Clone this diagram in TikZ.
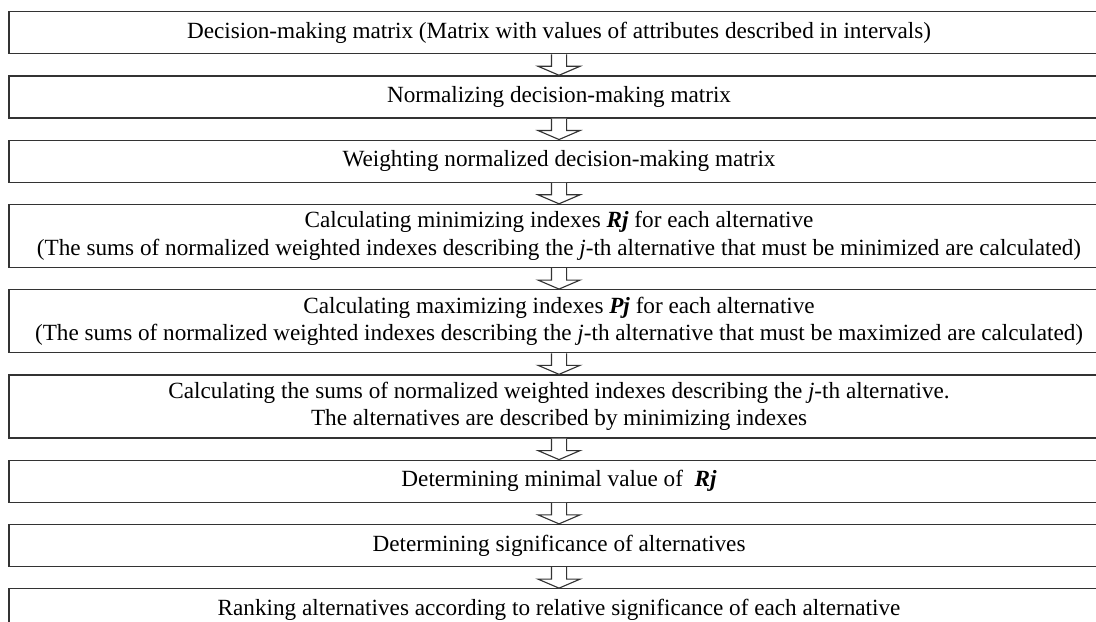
\documentclass[tikz,border=0pt]{standalone}
\usepackage{fontspec}
\setmainfont{Liberation Serif}
\usetikzlibrary{positioning}
\begin{document}
\begin{tikzpicture}[
    stage/.style={draw=black!80, line width=0.9pt, rectangle, inner sep=0pt, minimum width=27.5cm, minimum height=1.05cm, align=center, font=\fontsize{16.5}{19.5}\selectfont},
    twoline/.style={stage, minimum height=1.575cm},
    hollow/.style={draw=black!80, line width=0.8pt, fill=white, line join=miter}
]


            \useasboundingbox (0,0) rectangle (27.4,-15.525);
            \clip (0,0) rectangle (27.4,-15.525);

            \node[stage, anchor=north west] (matrix) at (0.21,-0.275) {Decision-making matrix (Matrix with values of attributes described in intervals)};
            \node[stage, below=0.525cm of matrix] (normalized) {Normalizing decision-making matrix};
            \node[stage, below=0.525cm of normalized] (weighted) {Weighting normalized decision-making matrix};
            \node[twoline, below=0.525cm of weighted] (minind) {Calculating minimizing indexes \textbf{\textit{Rj}} for each alternative\\(The sums of normalized weighted indexes describing the \textit{j}-th alternative that must be minimized are calculated)};
            \node[twoline, below=0.525cm of minind] (maxind) {Calculating maximizing indexes \textbf{\textit{Pj}} for each alternative\\(The sums of normalized weighted indexes describing the \textit{j}-th alternative that must be maximized are calculated)};
            \node[twoline, below=0.525cm of maxind] (sums) {Calculating the sums of normalized weighted indexes describing the \textit{j}-th alternative.\\The alternatives are described by minimizing indexes};
            \node[stage, below=0.525cm of sums] (minimal) {Determining minimal value of \ \textbf{\textit{Rj}}};
            \node[stage, below=0.525cm of minimal] (signif) {Determining significance of alternatives};
            \node[stage, below=0.525cm of signif] (ranking) {Ranking alternatives according to relative significance of each alternative};

            % hollow arrows between the stages
            \foreach \a/\b in {matrix/normalized, normalized/weighted, weighted/minind, minind/maxind, maxind/sums, sums/minimal, minimal/signif, signif/ranking}
                \draw[hollow] ([xshift=-0.19cm]\a.south) -- ([xshift=-0.19cm,yshift=-0.3cm]\a.south) -- ([xshift=-0.525cm,yshift=-0.3cm]\a.south) -- (\b.north) -- ([xshift=0.525cm,yshift=-0.3cm]\a.south) -- ([xshift=0.19cm,yshift=-0.3cm]\a.south) -- ([xshift=0.19cm]\a.south);
            \end{tikzpicture}
\end{document}
